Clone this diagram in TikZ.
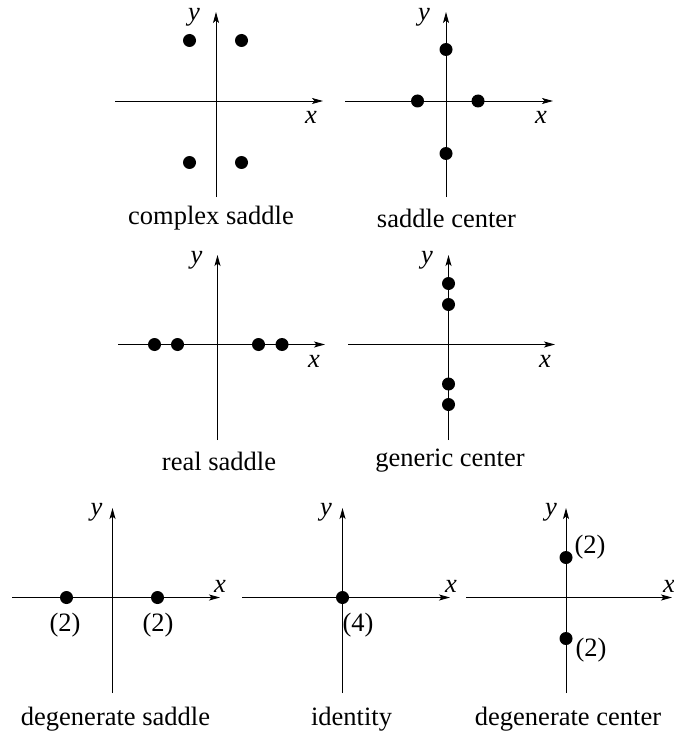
\documentclass[tikz,border=0pt]{standalone}
\usepackage{fontspec}
\setmainfont{Liberation Serif}
\usetikzlibrary{arrows.meta}
\tikzset{
  axis/.style={line width=0.9pt},
  dot/.style={circle, fill=black, inner sep=0pt, minimum size=13pt},
  lbl/.style={inner sep=0pt, font=\fontsize{26.5}{30}\selectfont},
  var/.style={inner sep=0pt, font=\fontsize{26.5}{30}\selectfont\itshape}
}
\begin{document}
\begin{tikzpicture}[x=1pt,y=-1pt,>={Stealth[length=11pt,width=6pt,inset=2.5pt]}]
\useasboundingbox (0,0) rectangle (673,738);
% complex saddle
\coordinate (csw) at (115,101); \coordinate (cse) at (323,101);
\coordinate (css) at (216,197); \coordinate (csn) at (216,12);
\draw[axis,->] (csw) -- (cse);
\draw[axis,->] (css) -- (csn);
\node[var] (csy) at (194,17) {y};
\node[var] (csx) at (311,117) {x};
\node[dot] (cs1) at (189.5,40.5) {};
\node[dot] (cs2) at (241.5,40.5) {};
\node[dot] (cs3) at (189.5,162.5) {};
\node[dot] (cs4) at (241.5,162.5) {};
\node[lbl] (cst) at (211,218) {complex saddle};
% saddle center
\coordinate (scw) at (345,101); \coordinate (sce) at (553,101);
\coordinate (scs) at (446,197); \coordinate (scn) at (446,12);
\draw[axis,->] (scw) -- (sce);
\draw[axis,->] (scs) -- (scn);
\node[var] (scy) at (424,17) {y};
\node[var] (scx) at (541,117) {x};
\node[dot] (sc1) at (446,49.5) {};
\node[dot] (sc2) at (417.5,101) {};
\node[dot] (sc3) at (478,101) {};
\node[dot] (sc4) at (446,153.5) {};
\node[lbl] (sct) at (446.5,218) {saddle center};
% real saddle
\coordinate (rsw) at (118,344.5); \coordinate (rse) at (325,344.5);
\coordinate (rss) at (217.5,440); \coordinate (rsn) at (217.5,255);
\draw[axis,->] (rsw) -- (rse);
\draw[axis,->] (rss) -- (rsn);
\node[var] (rsy) at (196.5,260) {y};
\node[var] (rsx) at (314,361) {x};
\node[dot] (rs1) at (154.5,344.5) {};
\node[dot] (rs2) at (177.5,344.5) {};
\node[dot] (rs3) at (258.5,344.5) {};
\node[dot] (rs4) at (282,344.5) {};
\node[lbl] (rst) at (219,461) {real saddle};
% generic center
\coordinate (gcw) at (348,344.5); \coordinate (gce) at (555,344.5);
\coordinate (gcs) at (448.5,440); \coordinate (gcn) at (448.5,255);
\draw[axis,->] (gcw) -- (gce);
\draw[axis,->] (gcs) -- (gcn);
\node[var] (gcy) at (427,260) {y};
\node[var] (gcx) at (545,361) {x};
\node[dot] (gc1) at (448.5,283.5) {};
\node[dot] (gc2) at (448.5,304.5) {};
\node[dot] (gc3) at (448.5,384) {};
\node[dot] (gc4) at (448.5,404.5) {};
\node[lbl] (gct) at (450,461) {generic center};
% degenerate saddle
\coordinate (dsw) at (12,597.5); \coordinate (dse) at (220,597.5);
\coordinate (dss) at (112.5,693); \coordinate (dsn) at (112.5,508);
\draw[axis,->] (dsw) -- (dse);
\draw[axis,->] (dss) -- (dsn);
\node[var] (dsy) at (96.5,512) {y};
\node[var] (dsx) at (220,586) {x};
\node[dot] (ds1) at (66.5,597.5) {};
\node[dot] (ds2) at (157.5,597.5) {};
\node[lbl] (ds1m) at (65,625) {(2)};
\node[lbl] (ds2m) at (158,625) {(2)};
\node[lbl] (dst) at (115.5,719) {degenerate saddle};
% identity
\coordinate (idw) at (242,597.5); \coordinate (ide) at (450,597.5);
\coordinate (ids) at (342.5,693); \coordinate (idn) at (342.5,508);
\draw[axis,->] (idw) -- (ide);
\draw[axis,->] (ids) -- (idn);
\node[var] (idy) at (326,512) {y};
\node[var] (idx) at (451,586) {x};
\node[dot] (id1) at (342.5,597.5) {};
\node[lbl] (id1m) at (358,625) {(4)};
\node[lbl] (idt) at (351.5,719) {identity};
% degenerate center
\coordinate (dcw) at (466,597.5); \coordinate (dce) at (672,597.5);
\coordinate (dcs) at (566,693); \coordinate (dcn) at (566,508);
\draw[axis,->] (dcw) -- (dce);
\draw[axis,->] (dcs) -- (dcn);
\node[var] (dcy) at (551,512) {y};
\node[var] (dcx) at (669,586) {x};
\node[dot] (dc1) at (566,557.5) {};
\node[dot] (dc2) at (566,638.5) {};
\node[lbl] (dc1m) at (590,547) {(2)};
\node[lbl] (dc2m) at (591,650) {(2)};
\node[lbl] (dct) at (568,719) {degenerate center};
\end{tikzpicture}
\end{document}
